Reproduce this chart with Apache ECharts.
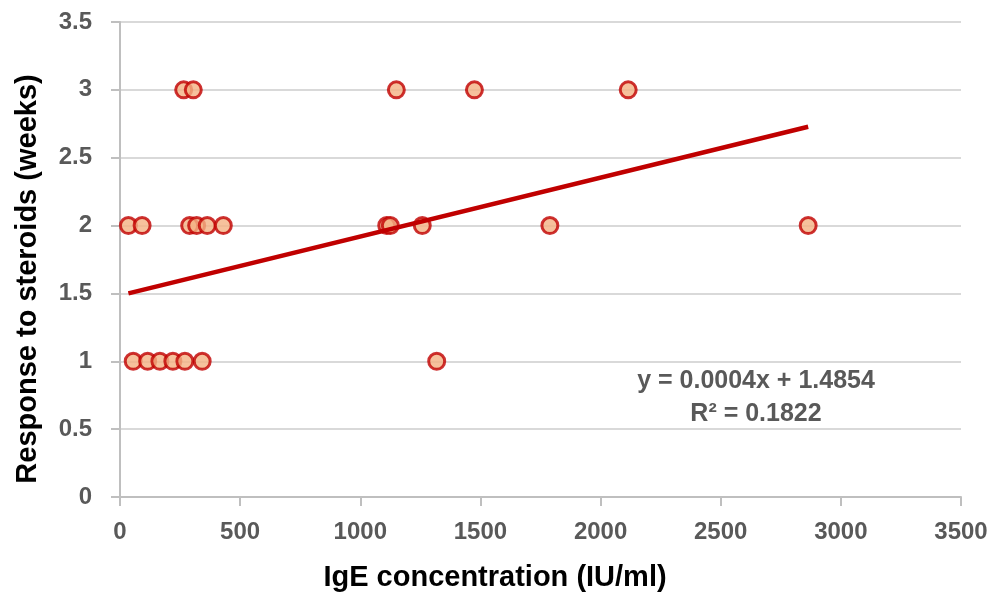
<!DOCTYPE html>
<html>
<head>
<meta charset="utf-8">
<script src="https://cdn.jsdelivr.net/npm/echarts@6/dist/echarts.min.js"></script>
<style>
html,body{margin:0;padding:0;background:#fff;}
#chart{width:1008px;height:597px;}
</style>
</head>
<body>
<div id="chart"></div>
<script>
// IgE concentration (IU/ml)
const igeValues = [265, 305, 1150, 1475, 2115,
                   35, 92, 290, 319, 363, 430, 1110, 1125, 1258, 1789, 2864,
                   55, 115, 166, 220, 270, 342, 1318];
// Response to steroids (weeks)
const responseWeeks = [3, 3, 3, 3, 3,
                       2, 2, 2, 2, 2, 2, 2, 2, 2, 2, 2,
                       1, 1, 1, 1, 1, 1, 1];
const xTicks = [0, 500, 1000, 1500, 2000, 2500, 3000, 3500];
const yTicks = [0, 0.5, 1, 1.5, 2, 2.5, 3, 3.5];
const trendSlope = 0.000434;
const trendIntercept = 1.4854;
const equationLines = ['y = 0.0004x + 1.4854', 'R² = 0.1822'];
const xTitle = 'IgE concentration (IU/ml)';
const yTitle = 'Response to steroids (weeks)';

const points = igeValues.map((x, i) => [x, responseWeeks[i]]);
const xMin = Math.min(...igeValues), xMax = Math.max(...igeValues);
const trendData = [[xMin, trendIntercept + trendSlope * xMin], [xMax, trendIntercept + trendSlope * xMax]];

const FONT = 'Liberation Sans, Arial, sans-serif';
const chart = echarts.init(document.getElementById('chart'));
const labelStyle = {color: '#595959', fontWeight: 'bold', fontSize: 24, fontFamily: FONT};
const titleStyle = {fill: '#000', fontWeight: 'bold', fontSize: 29, fontFamily: FONT, textAlign: 'center', textVerticalAlign: 'middle', x: 0, y: 0};
chart.setOption({
  animation: false,
  backgroundColor: '#fff',
  grid: {left: 120, right: 47, top: 22, bottom: 100, containLabel: false},
  xAxis: {
    type: 'value', min: xTicks[0], max: xTicks[xTicks.length - 1], interval: 500,
    axisLine: {show: true, lineStyle: {color: '#bfbfbf', width: 2}},
    axisTick: {show: true, inside: false, length: 9, lineStyle: {color: '#bfbfbf', width: 2}},
    axisLabel: Object.assign({margin: 23, formatter: v => String(v)}, labelStyle),
    splitLine: {show: false}
  },
  yAxis: {
    type: 'value', min: yTicks[0], max: yTicks[yTicks.length - 1], interval: 0.5,
    axisLine: {show: true, lineStyle: {color: '#bfbfbf', width: 2}},
    axisTick: {show: true, inside: false, length: 9, lineStyle: {color: '#bfbfbf', width: 2}},
    axisLabel: Object.assign({margin: 28, formatter: v => String(v)}, labelStyle),
    splitLine: {show: true, lineStyle: {color: '#d9d9d9', width: 2}}
  },
  series: [
    {
      type: 'scatter', data: points, symbol: 'circle', symbolSize: 16, z: 2,
      itemStyle: {color: '#f4b183', borderColor: '#c00000', borderWidth: 3}
    },
    {
      type: 'line', data: trendData, symbol: 'none', z: 3,
      lineStyle: {color: '#c00000', width: 4.5}
    }
  ],
  graphic: [
    {type: 'text', position: [495, 578], style: Object.assign({text: xTitle}, titleStyle)},
    {type: 'text', position: [28, 279], rotation: Math.PI / 2, style: Object.assign({text: yTitle}, titleStyle)},
    {type: 'text', position: [756, 381], style: {text: equationLines[0], x: 0, y: 0, textAlign: 'center', textVerticalAlign: 'middle', fill: '#595959', fontWeight: 'bold', fontSize: 25, fontFamily: FONT}},
    {type: 'text', position: [756, 414], style: {text: equationLines[1], x: 0, y: 0, textAlign: 'center', textVerticalAlign: 'middle', fill: '#595959', fontWeight: 'bold', fontSize: 25, fontFamily: FONT}}
  ]
});
</script>
</body>
</html>
